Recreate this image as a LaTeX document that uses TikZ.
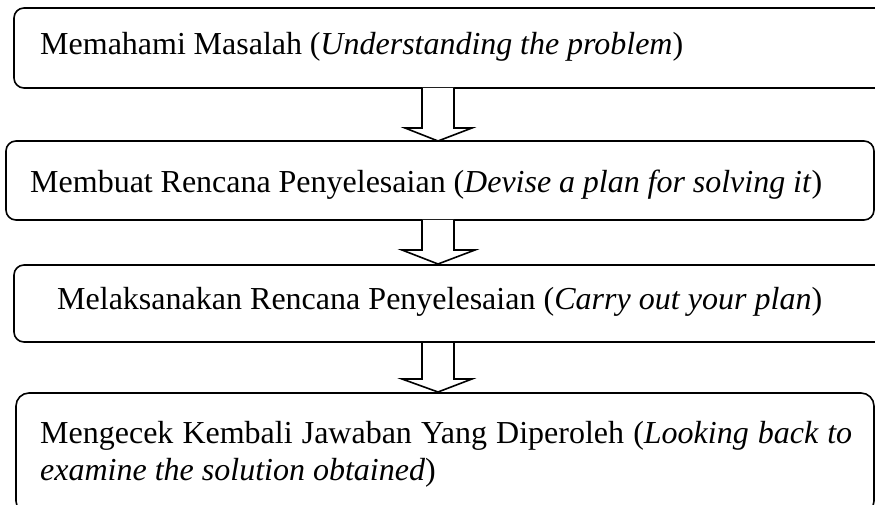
\documentclass[tikz,border=0pt]{standalone}
\usepackage{fontspec}
\setmainfont{Liberation Serif}
\usetikzlibrary{calc}
\begin{document}
\begin{tikzpicture}[x=1bp,y=-1bp,
  box/.style={draw, line width=1.6bp, rounded corners=10bp},
  lbl/.style={anchor=base west, inner sep=0pt, font=\fontsize{32bp}{37bp}\selectfont},
  blockarrow/.style={draw, line width=1.6bp, fill=white, line join=miter}]
\useasboundingbox (0,0) rectangle (875,505);
\clip (0,0) rectangle (875,505);
% boxes
\draw[box] (14,8) rectangle (890,88);
\draw[box] (6,141) rectangle (874,220);
\draw[box] (14,265) rectangle (890,342);
\draw[box, rounded corners=13bp] (16,393) rectangle (874,514);
\coordinate (b1s) at (438,88);
\coordinate (b2n) at (438,141);
\coordinate (b2s) at (438,220);
\coordinate (b3n) at (438,264);
\coordinate (b3s) at (438,343);
\coordinate (b4n) at (438,392);
% texts
\node[lbl] (t1) at (40,55) {\makebox[643bp][s]{Memahami Masalah (\textit{Understanding the problem})}};
\node[lbl] (t2) at (30,193) {\makebox[792bp][s]{Membuat Rencana Penyelesaian (\textit{Devise a plan for solving it})}};
\node[lbl] (t3) at (57,310) {\makebox[765bp][s]{Melaksanakan Rencana Penyelesaian (\textit{Carry out your plan})}};
\node[lbl] (t4a) at (40,443) {\makebox[812bp][s]{Mengecek Kembali Jawaban Yang Diperoleh (\textit{Looking back to}}};
\node[lbl] (t4b) at (40,480) {\textit{examine the solution obtained})};
% block arrows
\draw[blockarrow] ($(b1s)+(-16,0)$) -- ++(0,40) -- ++(-17,0) -- (b2n) -- ++(34,-13) -- ++(-18,0) -- ($(b1s)+(16,0)$);
\draw[blockarrow] ($(b2s)+(-16,0)$) -- ++(0,30) -- ++(-20,0) -- (b3n) -- ++(37,-14) -- ++(-21,0) -- ($(b2s)+(16,0)$);
\draw[blockarrow] ($(b3s)+(-16,0)$) -- ++(0,36) -- ++(-20,0) -- (b4n) -- ++(34,-13) -- ++(-18,0) -- ($(b3s)+(16,0)$);
\end{tikzpicture}
\end{document}
